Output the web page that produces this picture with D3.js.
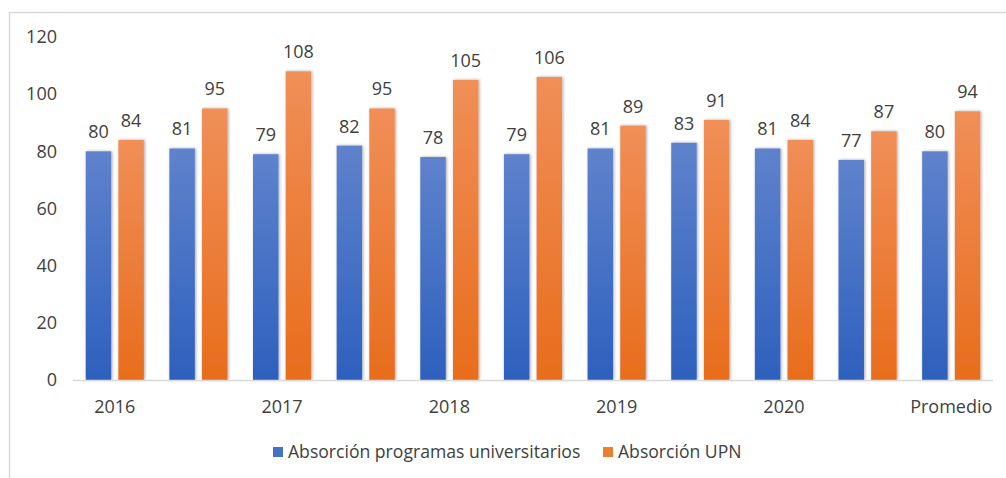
<!DOCTYPE html>
<meta charset="utf-8">
<style>
  body { margin: 0; background: #fff; }
  text { font-family: "Open Sans", "Liberation Sans", sans-serif; fill: #404040; }
</style>
<body>
<div id="chart"></div>
<script src="https://d3js.org/d3.v7.min.js"></script>
<script>
  // data
  var groups = ["g0", "g1", "g2", "g3", "g4", "g5", "g6", "g7", "g8", "g9", "g10"];
  var xLabels = ["2016", "", "2017", "", "2018", "", "2019", "", "2020", "", "Promedio"];
  var programas = [80, 81, 79, 82, 78, 79, 81, 83, 81, 77, 80];
  var upn = [84, 95, 108, 95, 105, 106, 89, 91, 84, 87, 94];
  var seriesNames = ["Absorción programas universitarios", "Absorción UPN"];
  var yTicks = [0, 20, 40, 60, 80, 100, 120];

  var W = 1006, H = 478;
  var plotLeft = 73, plotRight = 993, plotTop = 37, plotBottom = 380;

  var svg = d3.select("#chart").append("svg")
    .attr("width", W).attr("height", H);

  var defs = svg.append("defs");
  function grad(id, c1, c2) {
    var g = defs.append("linearGradient").attr("id", id)
      .attr("x1", 0).attr("y1", 0).attr("x2", 0).attr("y2", 1);
    g.append("stop").attr("offset", "0%").attr("stop-color", c1);
    g.append("stop").attr("offset", "100%").attr("stop-color", c2);
  }
  grad("gBlue", "#5f82cc", "#2d60bd");
  grad("gOrange", "#f08f58", "#e86d1c");
  var f = defs.append("filter").attr("id", "shadow")
    .attr("x", "-30%").attr("y", "-5%").attr("width", "160%").attr("height", "110%");
  f.append("feDropShadow").attr("dx", 1).attr("dy", 0).attr("stdDeviation", 1.5)
    .attr("flood-color", "#000").attr("flood-opacity", 0.35);

  // outer frame
  svg.append("rect")
    .attr("x", 9.5).attr("y", 12.5).attr("width", 1010).attr("height", 480)
    .attr("fill", "none").attr("stroke", "#d9d9d9").attr("stroke-width", 1.5);

  var x = d3.scaleBand().domain(groups).range([plotLeft, plotRight]).paddingInner(0.305).paddingOuter(0.152);
  var x1 = d3.scaleBand().domain([0, 1]).range([0, x.bandwidth()]).paddingInner(0.22);
  var y = d3.scaleLinear().domain([0, 120]).range([plotBottom, plotTop]);

  // y tick labels
  svg.append("g").selectAll("text").data(yTicks).join("text")
    .attr("x", 57).attr("y", function (d) { return y(d); })
    .attr("dy", "0.35em").attr("text-anchor", "end")
    .style("font-size", "18px").text(function (d) { return d; });

  var series = [
    { vals: programas, fill: "url(#gBlue)" },
    { vals: upn, fill: "url(#gOrange)" }
  ];

  series.forEach(function (s, si) {
    var g = svg.append("g");
    g.selectAll("rect").data(s.vals).join("rect")
      .attr("x", function (d, i) { return x(groups[i]) + x1(si); })
      .attr("y", function (d) { return y(d); })
      .attr("width", x1.bandwidth())
      .attr("height", function (d) { return plotBottom - y(d); })
      .attr("fill", s.fill)
      .attr("filter", "url(#shadow)");
    g.selectAll("text").data(s.vals).join("text")
      .attr("x", function (d, i) { return x(groups[i]) + x1(si) + x1.bandwidth() / 2; })
      .attr("y", function (d) { return y(d) - 13; })
      .attr("text-anchor", "middle")
      .style("font-size", "18px").text(function (d) { return d; });
  });

  // baseline
  svg.append("line")
    .attr("x1", plotLeft).attr("x2", plotRight).attr("y1", plotBottom + 0.5).attr("y2", plotBottom + 0.5)
    .attr("stroke", "#d9d9d9").attr("stroke-width", 1.5);

  // x labels
  svg.append("g").selectAll("text").data(xLabels).join("text")
    .attr("x", function (d, i) { return x(groups[i]) + x.bandwidth() / 2; })
    .attr("y", 413)
    .attr("text-anchor", "middle")
    .style("font-size", "18px").text(function (d) { return d; });

  // legend
  var legendX = [273, 603];
  var legendColors = ["#4472c4", "#ed7d31"];
  var lg = svg.append("g");
  seriesNames.forEach(function (n, i) {
    lg.append("rect").attr("x", legendX[i]).attr("y", 447).attr("width", 10).attr("height", 10)
      .attr("fill", legendColors[i]);
    lg.append("text").attr("x", legendX[i] + 15).attr("y", 458)
      .style("font-size", "17.6px").text(n);
  });
</script>
</body>
